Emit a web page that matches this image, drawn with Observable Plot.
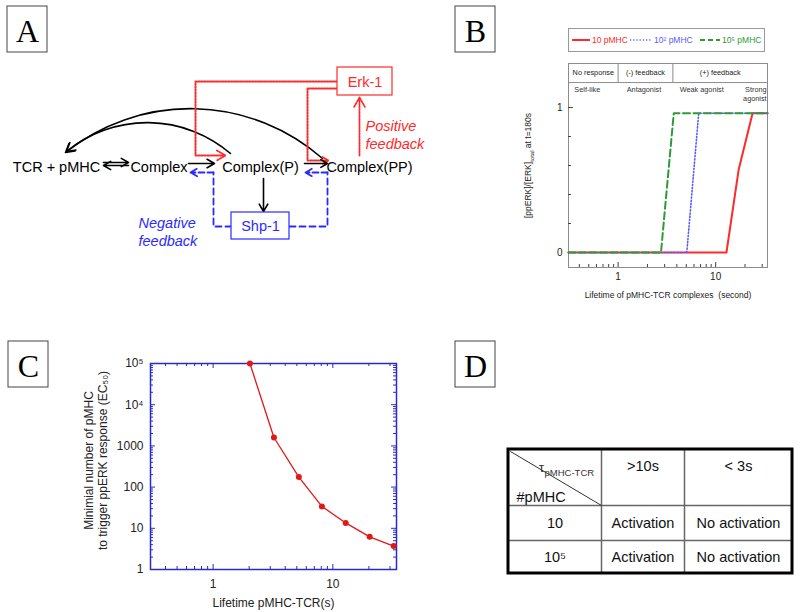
<!DOCTYPE html>
<html><head><meta charset="utf-8">
<script src="https://cdn.jsdelivr.net/npm/d3@7"></script>
<script src="https://cdn.jsdelivr.net/npm/@observablehq/plot@0.6"></script>
<style>
body{margin:0;background:#fff;}
#page{position:relative;width:800px;height:612px;overflow:hidden;background:#fff;font-family:"Liberation Sans",Arial,sans-serif;}
#page > svg, #page > div {position:absolute;}
</style></head><body><div id="page"></div>
<script>
const FONT = '"Liberation Sans", Arial, Helvetica, sans-serif';
const SERIF = '"Liberation Serif", "Times New Roman", serif';
const RED = "#ff2a2a", BLUE = "#2a2aff", GREEN = "#2e9a3a";

// ---------- Panel letters ----------
const panelLetters = ["A", "B", "C", "D"];
const panelLeft = [7, 455, 8, 455];
const panelTop = [6, 6, 341, 341];

// ---------- Panel A : reaction diagram (layout) ----------
const aNodeLabels = ["TCR + pMHC", "Complex", "Complex(P)", "Complex(PP)"];
const aNodeX = [56, 158.5, 260, 369];
const aNodeY = [167, 167, 167, 167];
const aBoxLabels = ["Erk-1", "Shp-1"];
const aBoxColors = [RED, BLUE];
const aBoxX1 = [337, 231], aBoxX2 = [392, 289], aBoxY1 = [67, 212], aBoxY2 = [95, 239];
const aNotes = ["Positive\nfeedback", "Negative\nfeedback"];
const aNoteColors = [RED, BLUE];
const aNoteX = [365, 138], aNoteY = [134, 231];
// solid black reaction arrows [x1,y1,x2,y2]
const aBlackArrows = [[103,162,128,162],[128,165,103,165],[188,163,214,163],[304,163,327,163],[263,178,263,211]];
// arcs back to TCR + pMHC
const aArcs = [[322,158,65,152],[230,153,66,151]];
// red dotted feedback paths (Erk-1 -> complexes)
const aRedPaths = [[[337,81],[195,81],[195,155]], [[337,88],[307,88],[307,160]]];
const aRedArrows = [[195,155,225,155],[307,160,328,160],[359,155,359,97]];
// blue dashed feedback paths (Shp-1 -> complexes)
const aBluePaths = [[[231,226],[213,226],[213,172]], [[289,226],[327,226],[327,172]]];
const aBlueArrows = [[213,172,190,172],[327,172,305,172]];

// ---------- Panel B data ----------
const bSeriesNames = ["10 pMHC", "10\u00b2 pMHC", "10\u2075 pMHC"];
const b10Lifetime = [0.31, 12.9, 17.2, 23.9, 34];
const b10Level = [0, 0, 0.57, 0.96, 0.96];
const b100Lifetime = [0.31, 5.06, 6.7, 34];
const b100Level = [0, 0, 0.96, 0.96];
const b1e5Lifetime = [0.31, 2.75, 3.72, 34];
const b1e5Level = [0, 0, 0.96, 0.96];
const bFeedbackLabels = ["No response", "(-) feedback", "(+) feedback"];
const bFeedbackBounds = [0.31, 1, 3.64, 34];
const bLigandLabels = ["Self-like", "Antagonist", "Weak agonist", "Strong\nagonist"];
const bLigandAt = [0.356, 1.84, 7.2, 33.3];
const bLigandAnchor = ["start", "middle", "middle", "end"];
const bXMajor = [1, 10];
const bXMinor = [0.4,0.5,0.6,0.7,0.8,0.9,2,3,4,5,6,7,8,9,20,30];
const bYMajor = [0, 1];
const bYMinor = [0.2, 0.4, 0.6, 0.8];
const bXLabel = "Lifetime of pMHC-TCR complexes  (second)";
const bYLabel = "[ppERK]/[ERK]total at t=180s";

// ---------- Panel C data ----------
const cLifetime = [2.03, 3.22, 5.2, 8.1, 12.8, 20.3, 32.2];
const cMinPMHC = [100000, 1600, 175, 34, 13.5, 6.2, 3.7];
const cYTickValues = [1, 10, 100, 1000, 10000, 100000];
const cYTickLabels = ["1", "10", "100", "1000", "10\u2074", "10\u2075"];
const cXTickValues = [1, 10];
const cXMinor = [0.4,0.5,0.6,0.7,0.8,0.9,2,3,4,5,6,7,8,9,20,30];
const cYMinor = [1,10,100,1000,10000].flatMap(d => [2,3,4,5,6,7,8,9].map(k => k * d));
const cXLabel = "Lifetime pMHC-TCR(s)";
const cYLabel = "Minimial number of pMHC\nto trigger ppERK response (EC\u2085\u2080)";

// ---------- Panel D table ----------
const dColHeaders = [">10s", "< 3s"];
const dRowHeaders = ["10", "10\u2075"];
const dCells = [["Activation", "No activation"], ["Activation", "No activation"]];
const dColEdges = [508, 601, 684, 792];
const dRowEdges = [449, 505, 540, 573];

const page = document.getElementById("page");

// ===== Overlay: panel letters, diagram A, table D =====
const arr = a => a.map(([x1,y1,x2,y2]) => ({x1,y1,x2,y2}));
const pts = paths => paths.flatMap((p, k) => p.map(([x, y]) => ({x, y, k})));
const mid = e => e.slice(0, -1).map((v, i) => (v + e[i + 1]) / 2);
const dColMid = mid(dColEdges), dRowMid = mid(dRowEdges);
const dTexts = [];
dColHeaders.forEach((t, i) => dTexts.push({t, x: dColMid[i + 1], y: 466}));
dRowHeaders.forEach((t, j) => dTexts.push({t, x: dColMid[0], y: dRowMid[j + 1]}));
dCells.forEach((row, j) => row.forEach((t, i) => dTexts.push({t, x: dColMid[i + 1], y: dRowMid[j + 1]})));

const overlay = Plot.plot({
  width: 800, height: 612, margin: 0,
  x: {domain: [0, 800], range: [0, 800], axis: null},
  y: {domain: [0, 612], range: [0, 612], axis: null},
  style: {background: "transparent", fontFamily: FONT, overflow: "visible"},
  marks: [
    Plot.rect(panelLetters, {x1: (d, i) => panelLeft[i], x2: (d, i) => panelLeft[i] + 40,
      y1: (d, i) => panelTop[i], y2: (d, i) => panelTop[i] + 46, fill: "none", stroke: "#444", strokeWidth: 1}),
    Plot.text(panelLetters, {x: (d, i) => panelLeft[i] + 20, y: (d, i) => panelTop[i] + 25, text: d => d,
      fontFamily: SERIF, fontSize: 32, fill: "#000"}),
    // Panel A
    Plot.arrow(arr(aArcs), {x1: "x1", y1: "y1", x2: "x2", y2: "y2", bend: -40, stroke: "#000", strokeWidth: 1.6, headLength: 9}),
    Plot.line(pts(aRedPaths), {x: "x", y: "y", z: "k", stroke: RED, strokeWidth: 2, strokeDasharray: "1.6,1.4"}),
    Plot.arrow(arr(aRedArrows), {x1: "x1", y1: "y1", x2: "x2", y2: "y2", stroke: RED, strokeWidth: 1.8, strokeDasharray: "1.6,1.4", headLength: 9}),
    Plot.line(pts(aBluePaths), {x: "x", y: "y", z: "k", stroke: BLUE, strokeWidth: 1.8, strokeDasharray: "6,4"}),
    Plot.arrow(arr(aBlueArrows), {x1: "x1", y1: "y1", x2: "x2", y2: "y2", stroke: BLUE, strokeWidth: 1.8, strokeDasharray: "6,3", headLength: 8}),
    Plot.arrow(arr(aBlackArrows), {x1: "x1", y1: "y1", x2: "x2", y2: "y2", stroke: "#000", strokeWidth: 1.6, headLength: 8}),
    Plot.rect(aBoxLabels, {x1: (d, i) => aBoxX1[i], x2: (d, i) => aBoxX2[i], y1: (d, i) => aBoxY1[i], y2: (d, i) => aBoxY2[i],
      fill: "#fff", stroke: (d, i) => aBoxColors[i], strokeWidth: 1.2}),
    Plot.text(aBoxLabels, {x: (d, i) => (aBoxX1[i] + aBoxX2[i]) / 2, y: (d, i) => (aBoxY1[i] + aBoxY2[i]) / 2 + 0.5,
      text: d => d, fill: (d, i) => aBoxColors[i], fontSize: 14.5}),
    Plot.text(aNodeLabels, {x: (d, i) => aNodeX[i], y: (d, i) => aNodeY[i], text: d => d, fill: "#000", fontSize: 14.5}),
    Plot.text(aNotes, {x: (d, i) => aNoteX[i], y: (d, i) => aNoteY[i], text: d => d, fill: (d, i) => aNoteColors[i],
      fontSize: 14.5, fontStyle: "italic", textAnchor: "start", lineHeight: 1.2}),
    // Panel D table
    Plot.ruleX(dColEdges.slice(1, -1), {x: d => d, y1: dRowEdges[0], y2: dRowEdges[3], stroke: "#666", strokeWidth: 1.5}),
    Plot.ruleY(dRowEdges.slice(1, -1), {y: d => d, x1: dColEdges[0], x2: dColEdges[3], stroke: "#666", strokeWidth: 1.5}),
    Plot.link([0], {x1: dColEdges[0] + 2, y1: dRowEdges[0] + 2, x2: dColEdges[1], y2: dRowEdges[1], stroke: "#333", strokeWidth: 1}),
    Plot.rect([0], {x1: dColEdges[0], x2: dColEdges[3], y1: dRowEdges[0], y2: dRowEdges[3], fill: "none", stroke: "#000", strokeWidth: 3}),
    Plot.text(dTexts, {x: "x", y: "y", text: "t", fontSize: 14.5, fill: "#111"}),
    Plot.text(["\u03c4"], {x: 541, y: 467, text: d => d, fontSize: 13, fill: "#333"}),
    Plot.text(["pMHC-TCR"], {x: 544, y: 472, text: d => d, fontSize: 9.5, textAnchor: "start", fill: "#333"}),
    Plot.text(["#pMHC"], {x: 516, y: 497, text: d => d, fontSize: 14.5, textAnchor: "start", fill: "#111"})
  ]
});
overlay.style.left = "0px"; overlay.style.top = "0px";
page.appendChild(overlay);

// ===== Panel B =====
const bSeries = (ts, vs) => ts.map((t, i) => ({t, v: vs[i]}));
const BGRAY = "#8c8c8c";
const ligIdx = anchor => bLigandLabels.map((d, i) => i).filter(i => bLigandAnchor[i] === anchor);
const ligMark = anchor => Plot.text(ligIdx(anchor), {x: i => bLigandAt[i], y: 1.15, text: i => bLigandLabels[i],
  textAnchor: anchor, lineAnchor: "top", lineHeight: 1.2, fontSize: 7.3, fill: "#333"});
const plotB = Plot.plot({
  width: 300, height: 310,
  marginLeft: 68, marginRight: 33, marginTop: 63, marginBottom: 43,
  x: {type: "log", domain: [0.31, 34]},
  y: {domain: [-0.1034, 1.3034]},
  style: {background: "transparent", fontFamily: FONT, overflow: "visible", color: "#222"},
  marks: [
    Plot.frame({stroke: BGRAY}),
    Plot.ruleY([1.172], {stroke: BGRAY}),
    Plot.ruleX(bFeedbackBounds.slice(1, -1), {x: d => d, y1: 1.172, y2: 1.3034, stroke: BGRAY}),
    Plot.text(bFeedbackLabels, {x: (d, i) => Math.sqrt(bFeedbackBounds[i] * bFeedbackBounds[i + 1]), y: 1.237,
      text: d => d, fontSize: 7.3, fill: "#222"}),
    ligMark("start"), ligMark("middle"), ligMark("end"),
    Plot.tickX(bXMinor, {x: d => d, insetTop: 204 - 3, stroke: "#444"}),
    Plot.tickX(bXMajor, {x: d => d, insetTop: 204 - 5, stroke: "#444"}),
    Plot.tickY(bYMinor, {y: d => d, insetRight: 199 - 3, stroke: "#444"}),
    Plot.tickY(bYMajor, {y: d => d, insetRight: 199 - 5, stroke: "#444"}),
    Plot.axisX({ticks: bXMajor, tickSize: 0, tickPadding: 5, tickFormat: d => String(d), label: null, fontSize: 10}),
    Plot.axisY({ticks: bYMajor, tickSize: 0, tickPadding: 6, tickFormat: d => String(d), label: null, fontSize: 10}),
    Plot.line(bSeries(b10Lifetime, b10Level), {x: "t", y: "v", stroke: RED, strokeWidth: 2}),
    Plot.line(bSeries(b100Lifetime, b100Level), {x: "t", y: "v", stroke: "#5a5aff", strokeWidth: 1.6, strokeDasharray: "1.2,2"}),
    Plot.line(bSeries(b1e5Lifetime, b1e5Level), {x: "t", y: "v", stroke: GREEN, strokeWidth: 2, strokeDasharray: "7,3.5"}),
    Plot.text([bXLabel], {frameAnchor: "bottom", lineAnchor: "middle", dy: 28, text: d => d, fontSize: 8.5, fill: "#222"}),
    Plot.text([bYLabel], {frameAnchor: "left", textAnchor: "middle", lineAnchor: "middle", dx: -40, rotate: -90, text: d => d, fontSize: 8.5, fill: "#222"})
  ]
});
plotB.style.left = "500px"; plotB.style.top = "0px";
page.appendChild(plotB);
d3.select(plotB).selectAll("text").filter(function () { return this.textContent === bYLabel; }).each(function () {
  const t = d3.select(this); t.text("");
  t.append("tspan").text("[ppERK]/[ERK]");
  t.append("tspan").attr("dy", 3).attr("font-size", 6).text("total");
  t.append("tspan").attr("dy", -3).text(" at t=180s");
});

// Panel B legend
const legend = document.createElement("div");
legend.style.cssText = "left:568px;top:28px;width:197px;height:24px;border:1px solid #999;box-sizing:border-box;font-size:8.5px;font-family:" + FONT;
const legColors = [RED, "#5a5aff", GREEN];
const legDash = ["", "1.2,2", "5,3"];
const legLeft = [3, 61, 131];
const legSwatch = [18, 22, 20];
bSeriesNames.forEach((name, i) => {
  const item = document.createElement("div");
  item.style.cssText = `position:absolute;left:${legLeft[i]}px;top:4px;height:14px;display:flex;align-items:center;white-space:nowrap;color:${legColors[i]}`;
  item.innerHTML = `<svg width="${legSwatch[i]}" height="6"><line x1="0" y1="3" x2="${legSwatch[i]}" y2="3" stroke="${legColors[i]}" stroke-width="${i === 1 ? 1.6 : 2}" ${legDash[i] ? `stroke-dasharray="${legDash[i]}"` : ""}/></svg><span style="margin-left:2px">${name}</span>`;
  legend.appendChild(item);
});
page.appendChild(legend);

// ===== Panel C =====
const CBLUE = "#2a2ac8";
const cData = cLifetime.map((t, i) => ({t, n: cMinPMHC[i]}));
const plotC = Plot.plot({
  width: 380, height: 282,
  marginLeft: 110, marginRight: 24, marginTop: 33, marginBottom: 43,
  x: {type: "log", domain: [0.3, 34]},
  y: {type: "log", domain: [1, 1e5]},
  style: {background: "transparent", fontFamily: FONT, overflow: "visible", color: "#222"},
  marks: [
    Plot.frame({stroke: CBLUE, strokeWidth: 1.5}),
    Plot.tickX(cXMinor, {x: d => d, insetTop: 206 - 3, stroke: CBLUE}),
    Plot.tickX(cXTickValues, {x: d => d, insetTop: 206 - 5, stroke: CBLUE}),
    Plot.tickX(cXMinor, {x: d => d, insetBottom: 206 - 3, stroke: CBLUE}),
    Plot.tickX(cXTickValues, {x: d => d, insetBottom: 206 - 5, stroke: CBLUE}),
    Plot.tickY(cYMinor, {y: d => d, insetRight: 246 - 3, stroke: CBLUE}),
    Plot.tickY(cYTickValues, {y: d => d, insetRight: 246 - 5, stroke: CBLUE}),
    Plot.tickY(cYMinor, {y: d => d, insetLeft: 246 - 3, stroke: CBLUE}),
    Plot.tickY(cYTickValues, {y: d => d, insetLeft: 246 - 5, stroke: CBLUE}),
    Plot.axisX({ticks: cXTickValues, tickSize: 0, tickPadding: 10, tickFormat: d => String(d), label: null, fontSize: 12}),
    Plot.axisY({ticks: cYTickValues, tickSize: 0, tickPadding: 7, tickFormat: d => cYTickLabels[cYTickValues.indexOf(d)], label: null, fontSize: 12}),
    Plot.line(cData, {x: "t", y: "n", stroke: "#e01818", strokeWidth: 1.3}),
    Plot.dot(cData, {x: "t", y: "n", r: 3, fill: "#e01818"}),
    Plot.text([cXLabel], {frameAnchor: "bottom", lineAnchor: "middle", dy: 34, text: d => d, fontSize: 12, fill: "#222"}),
    Plot.text([cYLabel], {frameAnchor: "left", textAnchor: "middle", lineAnchor: "middle", dx: -55, dy: -6, rotate: -90, text: d => d, fontSize: 12, lineHeight: 1.17, fill: "#222"})
  ]
});
plotC.style.left = "40px"; plotC.style.top = "330px";
page.appendChild(plotC);
</script></body></html>
